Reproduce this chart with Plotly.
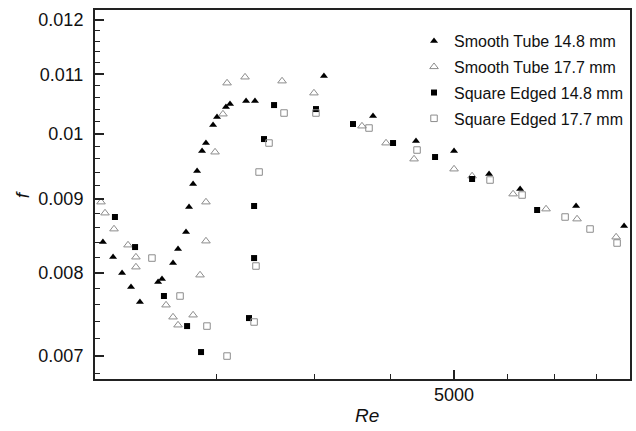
import plotly.graph_objects as go

# ---------------- data ----------------
re_st148 = [1899, 1953, 2002, 2052, 2103, 2211, 2235, 2304, 2336, 2388, 2408, 2435, 2462,
            2496, 2523, 2573, 2601, 2666, 2696, 2818, 2888, 3493, 3999, 4502, 5000, 5507,
            5999, 7000, 7991]
f_st148 = [0.008401, 0.008201, 0.007993, 0.007816, 0.007630, 0.007879, 0.007917, 0.008123,
           0.008308, 0.008538, 0.008887, 0.009222, 0.009416, 0.009723, 0.009849, 0.010137,
           0.010269, 0.010435, 0.010485, 0.010536, 0.010536, 0.010967, 0.010285, 0.009880,
           0.009723, 0.009371, 0.009148, 0.008902, 0.008620]

re_st177 = [1889, 1910, 1958, 2035, 2080, 2080, 2260, 2304, 2336, 2435, 2482, 2523, 2523,
            2587, 2644, 2674, 2810, 3112, 3398, 3879, 4145, 4478, 5000, 5255, 5884, 6444,
            7019, 7817]
f_st177 = [0.008959, 0.008802, 0.008579, 0.008361, 0.008201, 0.008071, 0.007593, 0.007448,
           0.007353, 0.007472, 0.007968, 0.008415, 0.008959, 0.009707, 0.010318, 0.010845,
           0.010949, 0.010880, 0.010672, 0.010121, 0.009849, 0.009599, 0.009446, 0.009341,
           0.009075, 0.008859, 0.008718, 0.008469]

re_se148 = [1858, 1963, 2075, 2247, 2395, 2489, 2841, 2881, 2881, 2961, 3044, 3417, 3784,
            4226, 4745, 5255, 6287]
f_se148 = [0.009177, 0.008746, 0.008334, 0.007704, 0.007341, 0.007041, 0.007436, 0.008188,
           0.008902, 0.009912, 0.010468, 0.010401, 0.010154, 0.009849, 0.009630, 0.009296,
           0.008845]

re_se177 = [1858, 2174, 2349, 2530, 2674, 2881, 2896, 2921, 3002, 3129, 3417, 3955, 4515,
            5522, 6032, 6791, 7275, 7838]
f_se177 = [0.009801, 0.008188, 0.007704, 0.007341, 0.006996, 0.007389, 0.008084, 0.009401,
           0.009849, 0.010335, 0.010335, 0.010089, 0.009739, 0.009281, 0.009060, 0.008746,
           0.008579, 0.008388]

series_names = ["Smooth Tube 14.8 mm", "Smooth Tube 17.7 mm",
                "Square Edged 14.8 mm", "Square Edged 17.7 mm"]

x_major_ticks = [5000]
x_major_labels = ["5000"]
x_minor_ticks = [2600, 3400, 4200, 5800, 6600, 7400]

y_major_ticks = [0.007, 0.008, 0.009, 0.010, 0.011, 0.012]
y_major_labels = ["0.007", "0.008", "0.009", "0.01", "0.011", "0.012"]
y_minor_ticks = [0.0068, 0.0072, 0.0074, 0.0076, 0.0078, 0.0082, 0.0084, 0.0086, 0.0088,
                 0.0092, 0.0094, 0.0096, 0.0098, 0.0102, 0.0104, 0.0106, 0.0108,
                 0.0112, 0.0114, 0.0116, 0.0118]

# ---------------- figure ----------------
FONT = "Liberation Sans, Arial, Helvetica, sans-serif"
AX = "#222222"
GRAY = "#8c8c8c"

fig = go.Figure()
fig.add_trace(go.Scatter(
    x=re_st148, y=f_st148, mode="markers", name=series_names[0], legendgroup="g1",
    marker=dict(symbol="triangle-up", size=7, color="black", line=dict(width=0)),
    cliponaxis=False))
fig.add_trace(go.Scatter(
    x=re_st177, y=f_st177, mode="markers", name=series_names[1], legendgroup="g2",
    marker=dict(symbol="triangle-up-open", size=7.5, color=GRAY, line=dict(width=1, color=GRAY)),
    cliponaxis=False))
fig.add_trace(go.Scatter(
    x=re_se148, y=f_se148, mode="markers", name=series_names[2], legendgroup="g3",
    marker=dict(symbol="square", size=6, color="black", line=dict(width=0)),
    cliponaxis=False))
fig.add_trace(go.Scatter(
    x=re_se177, y=f_se177, mode="markers", name=series_names[3], legendgroup="g4",
    marker=dict(symbol="square-open", size=6.5, color=GRAY, line=dict(width=1, color=GRAY)),
    cliponaxis=False))

axis_common = dict(
    type="log", showgrid=False, zeroline=False,
    showline=True, linewidth=2, linecolor=AX, mirror=True,
    ticks="inside", ticklen=9, tickwidth=2, tickcolor=AX,
    tickfont=dict(family=FONT, size=18, color="#111111"),
)

fig.update_xaxes(
    **axis_common,
    range=[3.26905, 3.90966],
    tickmode="array", tickvals=x_major_ticks, ticktext=x_major_labels,
    ticklabelstandoff=-2,
    minor=dict(tickmode="array", tickvals=x_minor_ticks, ticks="inside",
               ticklen=5, tickwidth=1.2, tickcolor=AX, showgrid=False),
)
fig.update_yaxes(
    **axis_common,
    range=[-2.17115, -1.91385],
    tickmode="array", tickvals=y_major_ticks, ticktext=y_major_labels,
    ticklabelstandoff=6,
    minor=dict(tickmode="array", tickvals=y_minor_ticks, ticks="inside",
               ticklen=5, tickwidth=1.2, tickcolor=AX, showgrid=False),
)

fig.update_layout(
    width=636, height=431,
    margin=dict(l=95, r=6, t=10, b=52, autoexpand=False),
    paper_bgcolor="white", plot_bgcolor="white",
    font=dict(family=FONT, color="#111111"),
    showlegend=True,
    legend=dict(x=0.5963, y=0.962, xanchor="left", yanchor="top",
                bgcolor="rgba(0,0,0,0)", borderwidth=0,
                font=dict(family=FONT, size=16, color="#111111"),
                tracegroupgap=2, itemsizing="trace"),
    annotations=[
        dict(text="<i>Re</i>", xref="paper", yref="paper", x=0.5084, y=-0.1,
             xanchor="center", yanchor="middle", showarrow=False,
             font=dict(family=FONT, size=19, color="#111111")),
        dict(text="<i>f</i>", xref="paper", yref="paper", x=-0.136, y=0.4986,
             xanchor="center", yanchor="middle", showarrow=False, textangle=-90,
             font=dict(family=FONT, size=19, color="#111111")),
    ],
)

fig.write_html("out.html")
